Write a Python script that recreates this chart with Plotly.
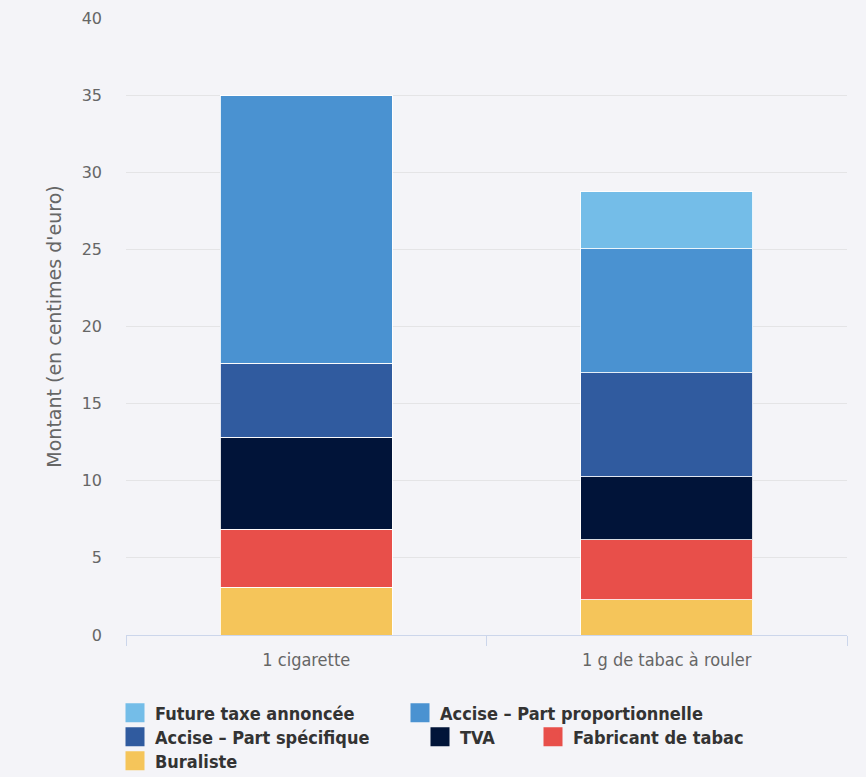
import plotly.graph_objects as go

categories = ["1 cigarette", "1 g de tabac à rouler"]
series_names = ["Buraliste", "Fabricant de tabac", "TVA", "Accise – Part spécifique",
                "Accise – Part proportionnelle", "Future taxe annoncée"]
buraliste = [3.1, 2.27]
fabricant = [3.77, 3.9]
tva = [5.96, 4.08]
specifique = [4.8, 6.74]
proportionnelle = [17.32, 8.04]
future = [0, 3.69]
series_values = [buraliste, fabricant, tva, specifique, proportionnelle, future]
colors = ["#f5c55a", "#e84f4a", "#011439", "#305b9f", "#4a92d1", "#74bde8"]

# legend slot of each series (row-wise legend like the original)
legend_ids = ["legend6", "legend5", "legend4", "legend3", "legend2", "legend"]

fig = go.Figure()
for name, vals, col in zip(series_names, series_values, colors):
    fig.add_trace(go.Bar(
        x=categories, y=vals, name=name, showlegend=False,
        marker=dict(color=col, line=dict(color="rgba(255,255,255,0.85)", width=1)),
    ))
# legend entries with larger square swatches
for name, col, lid in zip(series_names, colors, legend_ids):
    fig.add_trace(go.Scatter(
        x=[None], y=[None], mode="markers", name=name, legend=lid,
        marker=dict(symbol="square", size=16, color=col, line=dict(color=col, width=3)),
        showlegend=True, hoverinfo="skip",
    ))

bg = "#f4f4f8"
plot_left, plot_w, plot_bottom, plot_h = 126, 721, 635, 617


def leg(text_px, center_py):
    return dict(
        orientation="h",
        x=(text_px - 40 - plot_left) / plot_w, xanchor="left",
        y=-(center_py - plot_bottom) / plot_h, yanchor="middle",
        font=dict(family="DejaVu Sans Condensed", size=18, color="#333333", weight="bold"),
        itemsizing="trace", bgcolor="rgba(0,0,0,0)", borderwidth=0,
    )


fig.update_layout(
    width=866, height=777,
    barmode="stack", bargap=0.523,
    paper_bgcolor=bg, plot_bgcolor=bg,
    margin=dict(l=126, r=19, t=18, b=142, autoexpand=False),
    font=dict(family="DejaVu Sans", color="#666666"),
    showlegend=True,
    legend=leg(155, 713),
    legend2=leg(440, 713),
    legend3=leg(155, 737),
    legend4=leg(460, 737),
    legend5=leg(573, 737),
    legend6=leg(155, 761),
    xaxis=dict(
        showline=True, linecolor="#ccd6eb", linewidth=1,
        ticks="outside", tickson="boundaries", ticklen=10, tickcolor="#ccd6eb",
        tickfont=dict(family="DejaVu Sans Condensed", size=18, color="#666666"),
        ticklabelstandoff=8, automargin=False,
        showgrid=False,
    ),
    yaxis=dict(
        range=[0, 40], dtick=5, tick0=0,
        showgrid=True, gridcolor="#e4e4e6", gridwidth=1,
        zeroline=False, showline=False,
        tickfont=dict(family="DejaVu Sans", size=16, color="#666666"),
        ticklabelstandoff=23,
        title=dict(text="Montant (en centimes d'euro)", standoff=14,
                   font=dict(family="DejaVu Sans", size=19, color="#666666")),
        automargin=False,
    ),
)

fig.write_html("out.html")
